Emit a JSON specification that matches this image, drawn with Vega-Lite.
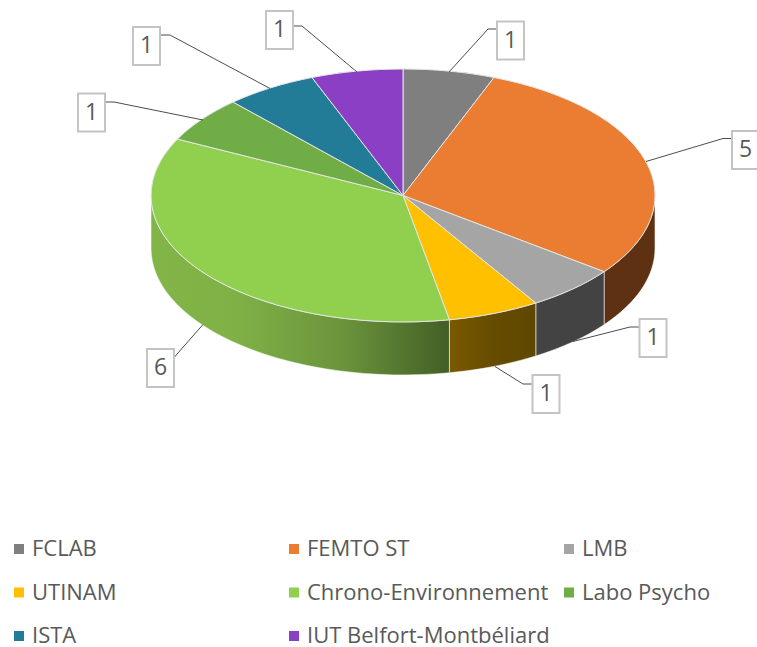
{
  "$schema": "https://vega.github.io/schema/vega-lite/v6.json",
  "width": 757,
  "height": 647,
  "padding": 0,
  "autosize": "none",
  "background": "white",
  "config": {"view": {"stroke": null}},
  "data": {"values": [
    {"category": "FCLAB", "slice": 1, "value": 1},
    {"category": "FEMTO ST", "slice": 2, "value": 5},
    {"category": "LMB", "slice": 3, "value": 1},
    {"category": "UTINAM", "slice": 4, "value": 1},
    {"category": "Chrono-Environnement", "slice": 5, "value": 6},
    {"category": "Labo Psycho", "slice": 6, "value": 1},
    {"category": "ISTA", "slice": 7, "value": 1},
    {"category": "IUT Belfort-Montbéliard", "slice": 8, "value": 1}
  ]},
  "resolve": {"scale": {"x": "independent", "y": "independent", "shape": "independent"}},
  "layer": [
    {
      "transform": [{"filter": "datum.slice == 2 || datum.slice == 3"}],
      "mark": {"type": "point", "filled": true, "opacity": 1, "size": 4, "stroke": "#ffffff", "strokeOpacity": 0.55, "strokeWidth": 1},
      "encoding": {
        "x": {"field": "slice", "type": "quantitative", "axis": null, "scale": {"domain": [1, 8], "range": [403, 403], "nice": false, "zero": false}},
        "y": {"field": "slice", "type": "quantitative", "axis": null, "scale": {"domain": [1, 8], "range": [195.5, 195.5], "nice": false, "zero": false}},
        "shape": {"field": "category", "type": "nominal", "legend": null, "scale": {
          "domain": ["FEMTO ST", "LMB"],
          "range": [
            "M252 0 A252 126.5 0 0 1 201.1 76.2 L201.1 129.2 A252 126.5 0 0 0 252 53 Z",
            "M201.1 76.2 A252 126.5 0 0 1 132.8 107.5 L132.8 160.5 A252 126.5 0 0 0 201.1 129.2 Z"
          ]}},
        "fill": {"field": "category", "type": "nominal", "legend": null, "scale": {
          "domain": ["FEMTO ST", "LMB"],
          "range": ["#5f3113", "#434343"]}}
      }
    },
    {
      "transform": [{"filter": "datum.slice == 4"}],
      "mark": {"type": "point", "filled": true, "opacity": 1, "size": 4, "stroke": "#ffffff", "strokeOpacity": 0.55, "strokeWidth": 1,
        "fill": {"gradient": "linear", "x1": 0, "y1": 0, "x2": 1, "y2": 0, "stops": [{"offset": 0, "color": "#7a5a00"}, {"offset": 0.5, "color": "#664c00"}, {"offset": 1, "color": "#5f4700"}]}},
      "encoding": {
        "x": {"field": "slice", "type": "quantitative", "axis": null, "scale": {"domain": [1, 8], "range": [403, 403], "nice": false, "zero": false}},
        "y": {"field": "slice", "type": "quantitative", "axis": null, "scale": {"domain": [1, 8], "range": [195.5, 195.5], "nice": false, "zero": false}},
        "shape": {"field": "category", "type": "nominal", "legend": null, "scale": {
          "domain": ["UTINAM"],
          "range": ["M132.8 107.5 A252 126.5 0 0 1 46.4 124.3 L46.4 177.3 A252 126.5 0 0 0 132.8 160.5 Z"]}}
      }
    },
    {
      "transform": [{"filter": "datum.slice == 5"}],
      "mark": {"type": "point", "filled": true, "opacity": 1, "size": 4, "stroke": "#ffffff", "strokeOpacity": 0.55, "strokeWidth": 1,
        "fill": {"gradient": "linear", "x1": 0, "y1": 0, "x2": 1, "y2": 0, "stops": [{"offset": 0, "color": "#82b548"}, {"offset": 0.3, "color": "#7fb046"}, {"offset": 0.65, "color": "#6a933b"}, {"offset": 1, "color": "#425f26"}]}},
      "encoding": {
        "x": {"field": "slice", "type": "quantitative", "axis": null, "scale": {"domain": [1, 8], "range": [403, 403], "nice": false, "zero": false}},
        "y": {"field": "slice", "type": "quantitative", "axis": null, "scale": {"domain": [1, 8], "range": [195.5, 195.5], "nice": false, "zero": false}},
        "shape": {"field": "category", "type": "nominal", "legend": null, "scale": {
          "domain": ["Chrono-Environnement"],
          "range": ["M46.4 124.3 A252 126.5 0 0 1 -252 0 L-252 53 A252 126.5 0 0 0 46.4 177.3 Z"]}}
      }
    },
    {
      "mark": {"type": "point", "filled": true, "opacity": 1, "size": 4, "stroke": "#e4e4e4", "strokeWidth": 1},
      "encoding": {
        "x": {"field": "slice", "type": "quantitative", "axis": null, "scale": {"domain": [1, 8], "range": [403, 403], "nice": false, "zero": false}},
        "y": {"field": "slice", "type": "quantitative", "axis": null, "scale": {"domain": [1, 8], "range": [195.5, 195.5], "nice": false, "zero": false}},
        "shape": {"field": "category", "type": "nominal", "legend": null, "scale": {
          "domain": ["FCLAB", "FEMTO ST", "LMB", "UTINAM", "Chrono-Environnement", "Labo Psycho", "ISTA", "IUT Belfort-Montbéliard"],
          "range": [
            "M0 0 L0 -126.5 A252 126.5 0 0 1 91 -118 Z",
            "M0 0 L91 -118 A252 126.5 0 0 1 201.1 76.2 Z",
            "M0 0 L201.1 76.2 A252 126.5 0 0 1 132.8 107.5 Z",
            "M0 0 L132.8 107.5 A252 126.5 0 0 1 46.4 124.3 Z",
            "M0 0 L46.4 124.3 A252 126.5 0 0 1 -225.5 -56.4 Z",
            "M0 0 L-225.5 -56.4 A252 126.5 0 0 1 -169.9 -93.4 Z",
            "M0 0 L-169.9 -93.4 A252 126.5 0 0 1 -91 -118 Z",
            "M0 0 L-91 -118 A252 126.5 0 0 1 0 -126.5 Z"
          ]}},
        "color": {"field": "category", "type": "nominal",
          "scale": {
            "domain": ["FCLAB", "FEMTO ST", "LMB", "UTINAM", "Chrono-Environnement", "Labo Psycho", "ISTA", "IUT Belfort-Montbéliard"],
            "range": ["#7f7f7f", "#ea7d31", "#a5a5a5", "#ffc000", "#90d04e", "#70ad47", "#227c97", "#8a3fc4"]},
          "legend": {
            "title": null,
            "orient": "none",
            "legendX": 8,
            "legendY": 538,
            "columns": 3,
            "direction": "horizontal",
            "gridAlign": "all",
            "columnPadding": 8,
            "rowPadding": 21.5,
            "symbolType": "square",
            "symbolSize": 100,
            "symbolStrokeWidth": 0,
            "symbolOpacity": 1,
            "labelFont": "Open Sans",
            "labelFontSize": 22,
            "labelColor": "#595959",
            "labelOffset": 2,
            "labelLimit": 400
          }}
      }
    },
    {
      "mark": {"type": "point", "filled": false, "opacity": 1, "size": 4, "stroke": "#4d4d4d", "strokeWidth": 1},
      "encoding": {
        "x": {"field": "slice", "type": "quantitative", "axis": null, "scale": {"domain": [1, 8], "range": [403, 403], "nice": false, "zero": false}},
        "y": {"field": "slice", "type": "quantitative", "axis": null, "scale": {"domain": [1, 8], "range": [195.5, 195.5], "nice": false, "zero": false}},
        "shape": {"field": "category", "type": "nominal", "legend": null, "scale": {
          "domain": ["FCLAB", "FEMTO ST", "LMB", "UTINAM", "Chrono-Environnement", "Labo Psycho", "ISTA", "IUT Belfort-Montbéliard"],
          "range": [
            "M94 -166.5 L85 -166.5 L46 -123.5",
            "M329 -57 L320 -57 L243 -34",
            "M237 131.5 L227 131.5 L170 146",
            "M130 188.5 L120 188.5 L92 171",
            "M-229 162 L-200 129",
            "M-298 -93.5 L-289 -93.5 L-200 -75.5",
            "M-243 -160.5 L-233 -160.5 L-133 -107",
            "M-110 -169.5 L-101 -169.5 L-46 -123.5"
          ]}}
      }
    },
    {
      "mark": {"type": "rect", "width": 27, "height": 38, "fill": "#ffffff", "stroke": "#c4c4c4", "strokeWidth": 2},
      "encoding": {
        "x": {"field": "slice", "type": "quantitative", "axis": null, "scale": {"domain": [1, 2, 3, 4, 5, 6, 7, 8], "range": [510.5, 745.5, 653, 546, 160.5, 91.5, 146.5, 279.5], "nice": false, "zero": false}},
        "y": {"field": "slice", "type": "quantitative", "axis": null, "scale": {"domain": [1, 2, 3, 4, 5, 6, 7, 8], "range": [40.5, 150, 338, 394, 368, 112.5, 46, 30], "nice": false, "zero": false}}
      }
    },
    {
      "mark": {"type": "text", "font": "Open Sans", "fontSize": 23, "color": "#595959", "align": "center", "baseline": "middle"},
      "encoding": {
        "x": {"field": "slice", "type": "quantitative", "axis": null, "scale": {"domain": [1, 2, 3, 4, 5, 6, 7, 8], "range": [510.5, 745.5, 653, 546, 160.5, 91.5, 146.5, 279.5], "nice": false, "zero": false}},
        "y": {"field": "slice", "type": "quantitative", "axis": null, "scale": {"domain": [1, 2, 3, 4, 5, 6, 7, 8], "range": [40.5, 150, 338, 394, 368, 112.5, 46, 30], "nice": false, "zero": false}},
        "text": {"field": "value", "type": "quantitative"}
      }
    }
  ]
}
